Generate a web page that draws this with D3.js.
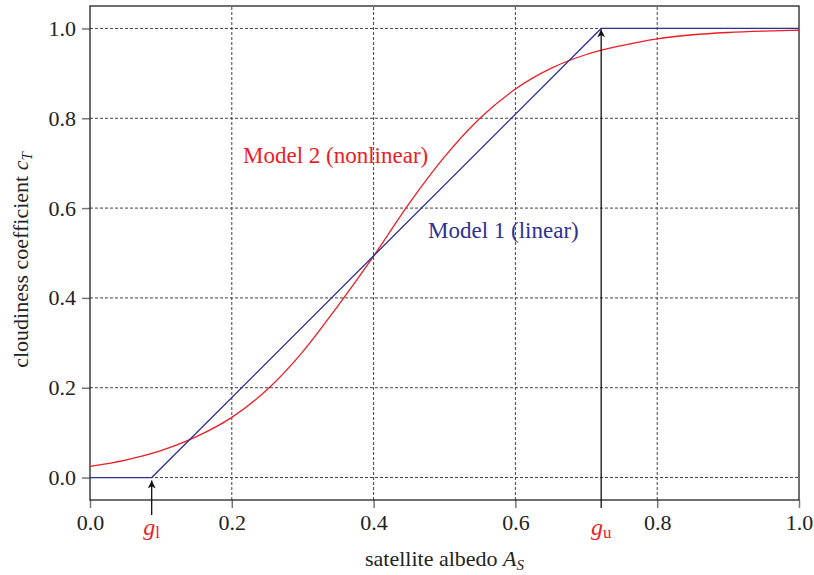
<!DOCTYPE html>
<html>
<head>
<meta charset="utf-8">
<script src="https://cdn.jsdelivr.net/npm/d3@7"></script>
<style>
  body { margin: 0; background: #fff; }
  text { font-family: "Liberation Serif", "Times New Roman", serif; }
</style>
</head>
<body>
<div id="chart"></div>
<script>
// values
var xTicks = [0.0, 0.2, 0.4, 0.6, 0.8, 1.0];
var yTicks = [0.0, 0.2, 0.4, 0.6, 0.8, 1.0];

var gLower = 0.087;
var gUpper = 0.721;

// model 1 (linear) corner points
var linearX = [0, gLower, gUpper, 1.0];
var linearY = [0, 0, 1, 1];

// model 2 (nonlinear) sampled every 0.05
var curveX = [0, 0.05, 0.1, 0.15, 0.2, 0.25, 0.3, 0.35, 0.4, 0.45, 0.5,
              0.55, 0.6, 0.65, 0.7, 0.75, 0.8, 0.85, 0.9, 0.95, 1.0];
var curveY = [0.025, 0.039, 0.060, 0.091, 0.134, 0.196, 0.280, 0.383, 0.493, 0.610, 0.714,
              0.800, 0.865, 0.911, 0.942, 0.962, 0.977, 0.986, 0.991, 0.994, 0.996];

var width = 814, height = 575;
var margin = {left: 90, right: 15, top: 6, bottom: 75};

var svg = d3.select("#chart").append("svg")
  .attr("width", width)
  .attr("height", height);

var x = d3.scaleLinear().domain([0, 1]).range([margin.left, width - margin.right]);
var y = d3.scaleLinear().domain([-0.05, 1.05]).range([height - margin.bottom, margin.top]);

var red = "#ee1c25";
var blue = "#2e3192";

// grid
svg.selectAll("line.vgrid")
  .data(xTicks.slice(1, -1))
  .enter().append("line")
    .attr("class", "vgrid")
    .attr("x1", function(d) { return x(d); })
    .attr("x2", function(d) { return x(d); })
    .attr("y1", y(-0.05))
    .attr("y2", y(1.05))
    .attr("stroke", "#444")
    .attr("stroke-width", 1)
    .attr("stroke-dasharray", "3,2");

svg.selectAll("line.hgrid")
  .data(yTicks)
  .enter().append("line")
    .attr("class", "hgrid")
    .attr("x1", x(0))
    .attr("x2", x(1))
    .attr("y1", function(d) { return y(d); })
    .attr("y2", function(d) { return y(d); })
    .attr("stroke", "#444")
    .attr("stroke-width", 1)
    .attr("stroke-dasharray", "3,2");

// axes
var xAxis = d3.axisBottom(x).tickValues(xTicks).tickSize(8).tickPadding(6)
  .tickFormat(d3.format(".1f"));
var yAxis = d3.axisLeft(y).tickValues(yTicks).tickSize(8).tickPadding(6)
  .tickFormat(d3.format(".1f"));

var gx = svg.append("g")
  .attr("transform", "translate(0," + y(-0.05) + ")")
  .call(xAxis);
var gy = svg.append("g")
  .attr("transform", "translate(" + x(0) + ",0)")
  .call(yAxis);

[gx, gy].forEach(function(g) {
  g.attr("font-family", null).attr("font-size", null);
  g.select(".domain").remove();
  g.selectAll(".tick line").attr("stroke", "#777").attr("stroke-width", 1.5);
  g.selectAll(".tick text")
    .attr("fill", "#222")
    .style("font-size", "22px");
});

// frame
svg.append("rect")
  .attr("x", x(0))
  .attr("y", y(1.05))
  .attr("width", x(1) - x(0))
  .attr("height", y(-0.05) - y(1.05))
  .attr("fill", "none")
  .attr("stroke", "#222")
  .attr("stroke-width", 1.3);

// model lines
var curveLine = d3.line()
  .x(function(d) { return x(d[0]); })
  .y(function(d) { return y(d[1]); })
  .curve(d3.curveMonotoneX);

var straightLine = d3.line()
  .x(function(d) { return x(d[0]); })
  .y(function(d) { return y(d[1]); });

svg.append("path")
  .datum(d3.zip(curveX, curveY))
  .attr("d", curveLine)
  .attr("fill", "none")
  .attr("stroke", red)
  .attr("stroke-width", 1.3);

svg.append("path")
  .datum(d3.zip(linearX, linearY))
  .attr("d", straightLine)
  .attr("fill", "none")
  .attr("stroke", blue)
  .attr("stroke-width", 1.3);

// arrows for g_l and g_u
svg.append("defs").append("marker")
  .attr("id", "arrow")
  .attr("viewBox", "0 0 10 10")
  .attr("refX", 10)
  .attr("refY", 5)
  .attr("markerWidth", 10)
  .attr("markerHeight", 8)
  .attr("markerUnits", "userSpaceOnUse")
  .attr("orient", "auto")
  .append("path")
    .attr("d", "M0,0 L10,5 L0,10 L3,5 Z")
    .attr("fill", "#111");

svg.append("line")
  .attr("x1", x(gLower)).attr("x2", x(gLower))
  .attr("y1", y(-0.05) + 15).attr("y2", y(0) + 3)
  .attr("stroke", "#111").attr("stroke-width", 1.3)
  .attr("marker-end", "url(#arrow)");

svg.append("line")
  .attr("x1", x(gUpper)).attr("x2", x(gUpper))
  .attr("y1", y(-0.05) + 8).attr("y2", y(1) + 1)
  .attr("stroke", "#111").attr("stroke-width", 1.3)
  .attr("marker-end", "url(#arrow)");

function gLabel(xv, sub) {
  var t = svg.append("text")
    .attr("x", x(xv))
    .attr("y", 535)
    .attr("text-anchor", "middle")
    .attr("fill", red)
    .style("font-size", "24px");
  t.append("tspan").style("font-style", "italic").text("g");
  t.append("tspan").attr("dy", 3).style("font-size", "17px").text(sub);
}
gLabel(gLower, "l");
gLabel(gUpper, "u");

// series labels
svg.append("text")
  .attr("x", 243).attr("y", 163)
  .attr("fill", red)
  .style("font-size", "23px")
  .text("Model 2 (nonlinear)");

svg.append("text")
  .attr("x", 428).attr("y", 238)
  .attr("fill", blue)
  .style("font-size", "23px")
  .text("Model 1 (linear)");

// axis titles
var xt = svg.append("text")
  .attr("x", x(0.5)).attr("y", 566)
  .attr("text-anchor", "middle")
  .attr("fill", "#222")
  .style("font-size", "22px");
xt.append("tspan").text("satellite albedo ");
xt.append("tspan").style("font-style", "italic").text("A");
xt.append("tspan").attr("dy", 4).style("font-size", "15px").style("font-style", "italic").text("S");

var yt = svg.append("text")
  .attr("transform", "translate(28,260) rotate(-90)")
  .attr("text-anchor", "middle")
  .attr("fill", "#222")
  .style("font-size", "22px");
yt.append("tspan").text("cloudiness coefficient ");
yt.append("tspan").style("font-style", "italic").text("c");
yt.append("tspan").attr("dy", 4).style("font-size", "15px").style("font-style", "italic").text("T");
</script>
</body>
</html>
